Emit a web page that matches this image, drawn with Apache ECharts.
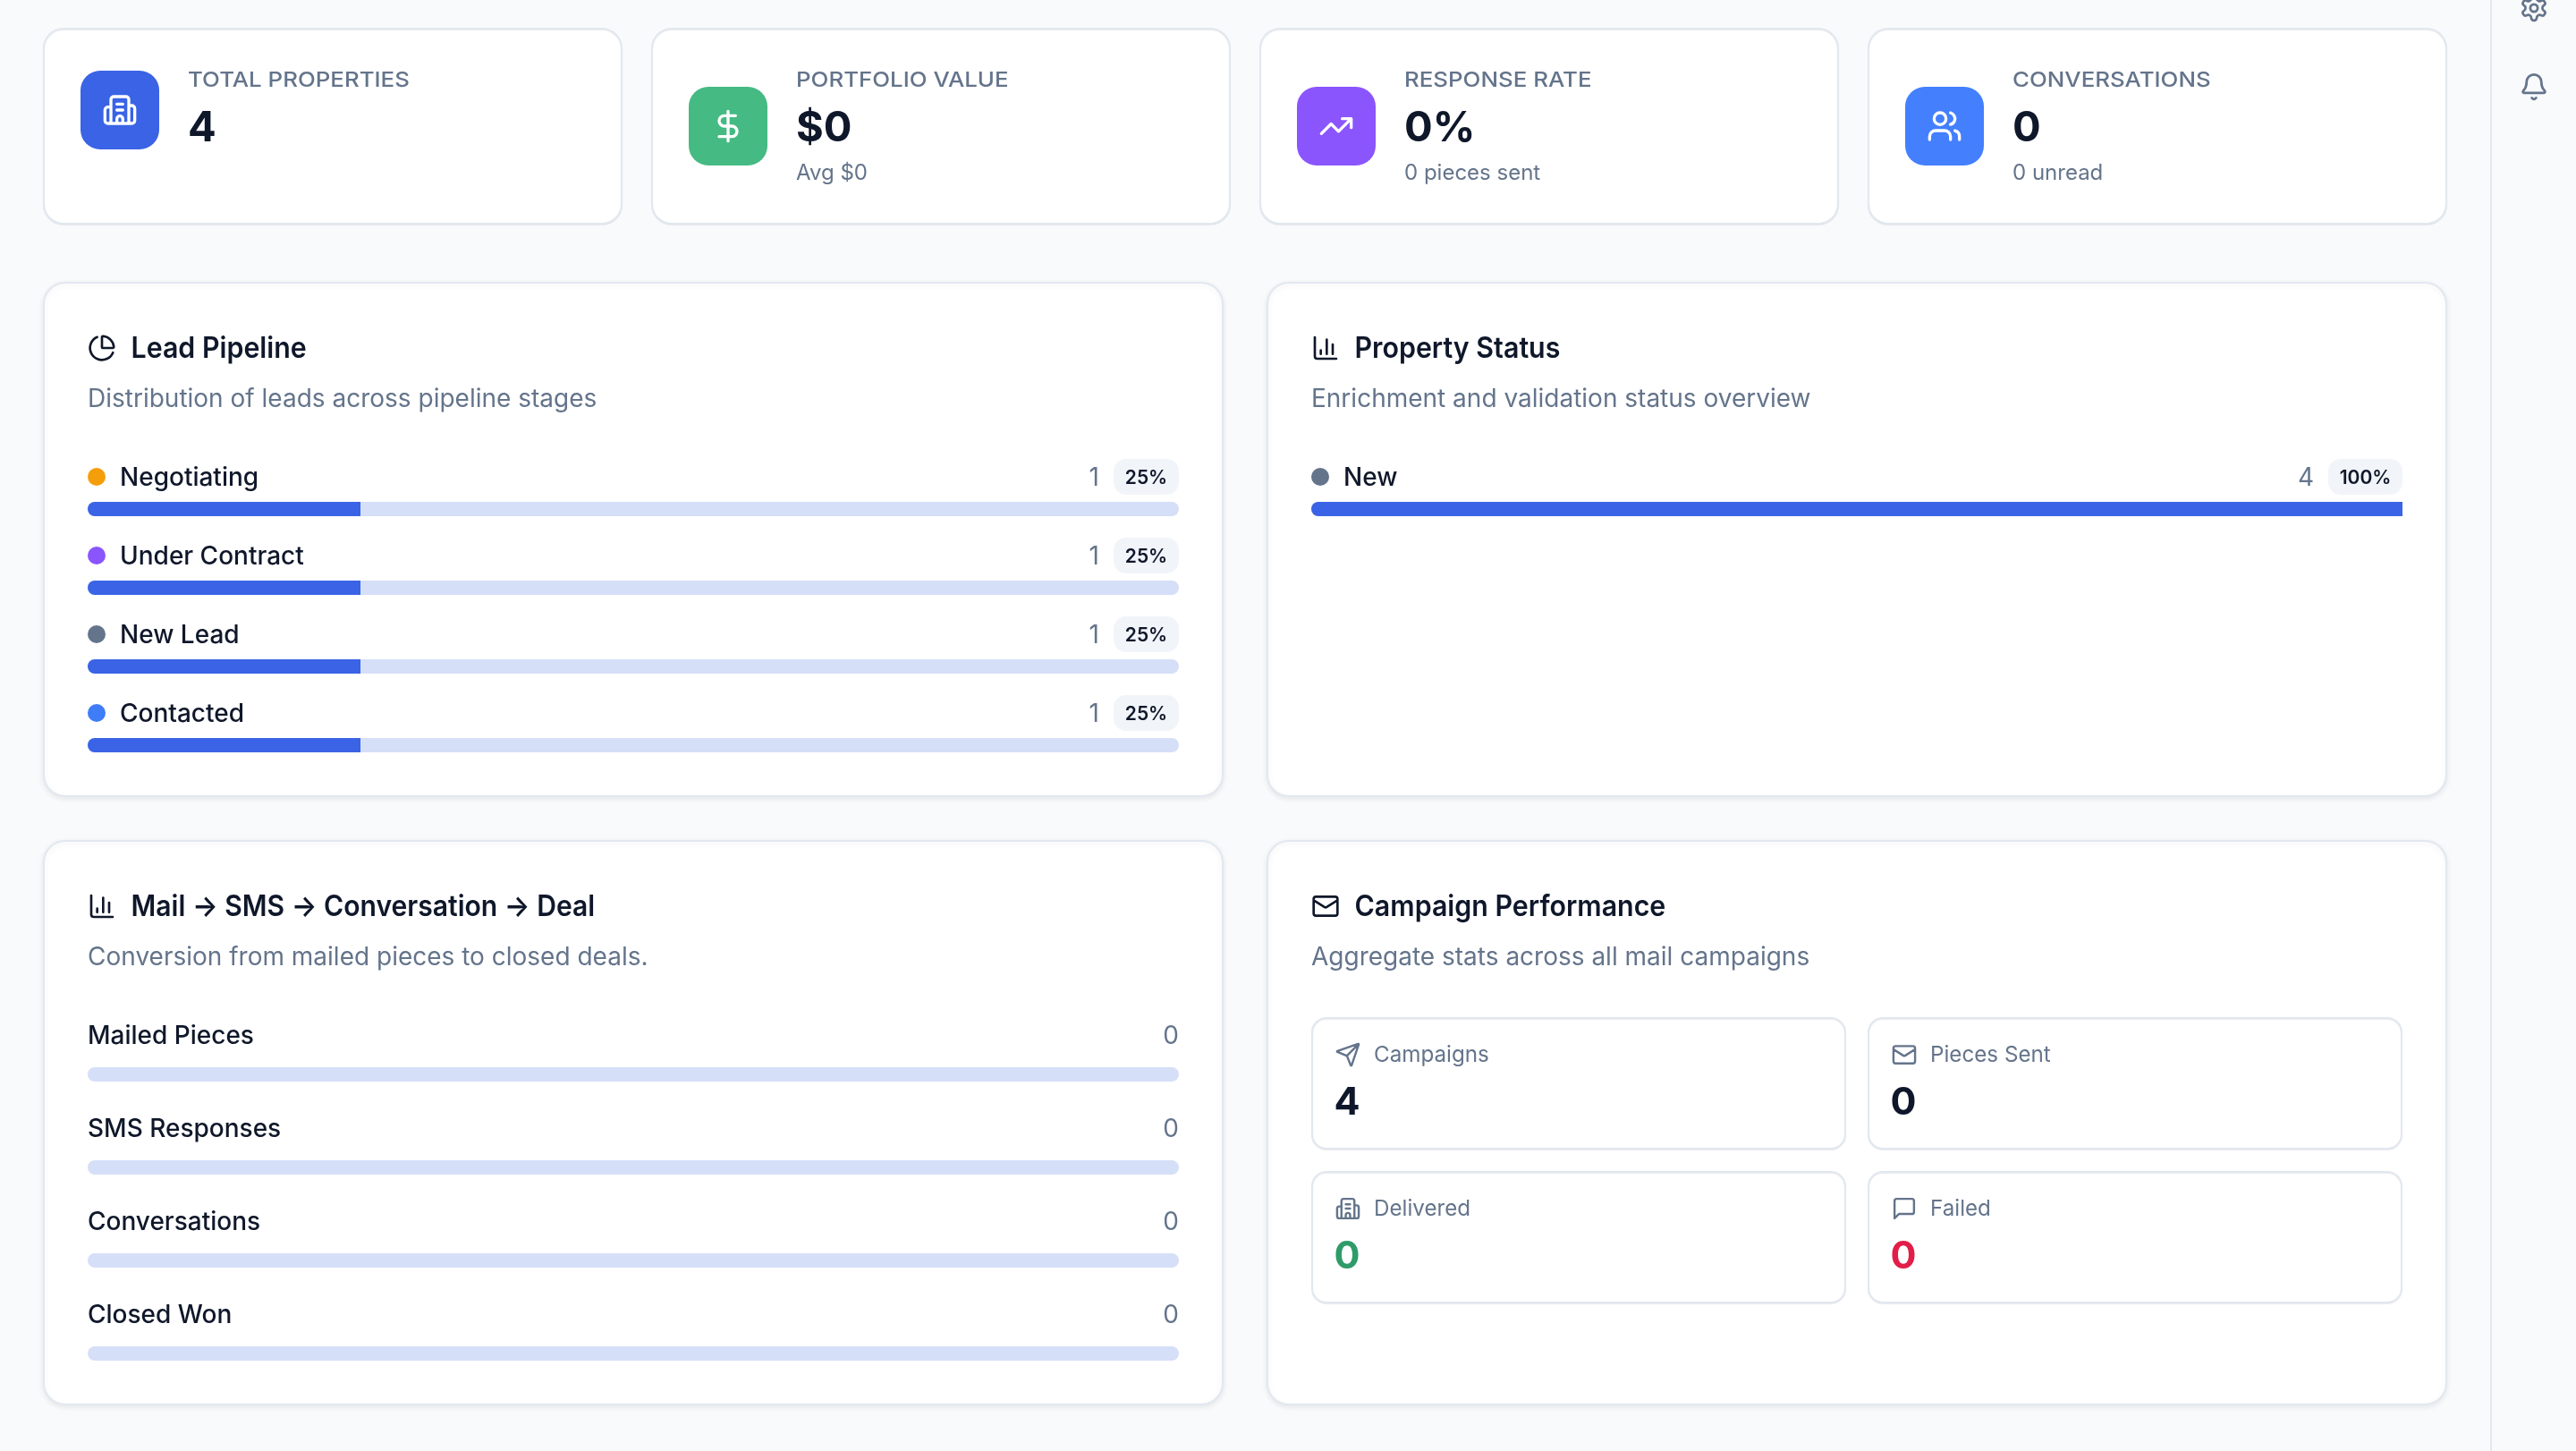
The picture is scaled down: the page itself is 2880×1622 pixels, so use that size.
<!DOCTYPE html>
<html>
<head>
<meta charset="utf-8">
<title>Dashboard</title>
<script src="https://cdn.jsdelivr.net/npm/echarts@6/dist/echarts.min.js"></script>
<style>
  html, body { margin: 0; padding: 0; background: #f9fafc; }
  #main { width: 2880px; height: 1622px; }
</style>
</head>
<body>
<div id="main"></div>
<script>
// data
var statLabels = ['TOTAL PROPERTIES', 'PORTFOLIO VALUE', 'RESPONSE RATE', 'CONVERSATIONS'];
var statValues = ['4', '$0', '0%', '0'];
var statNotes = ['', 'Avg $0', '0 pieces sent', '0 unread'];
var statColors = ['#3a63e6', '#45ba83', '#8b55fd', '#4480fe'];
var statIcons = ['building', 'dollar', 'trend', 'users'];

var pipelineStages = ['Negotiating', 'Under Contract', 'New Lead', 'Contacted'];
var pipelineCounts = [1, 1, 1, 1];
var pipelinePct = ['25%', '25%', '25%', '25%'];
var pipelineDots = ['#f59e0b', '#8b55fd', '#64748b', '#3f7cf8'];
var pipelineTotal = 4;

var statusNames = ['New'];
var statusCounts = [4];
var statusPct = ['100%'];
var statusDots = ['#64748b'];
var statusTotal = 4;

var funnelStages = ['Mailed Pieces', 'SMS Responses', 'Conversations', 'Closed Won'];
var funnelCounts = [0, 0, 0, 0];

var campaignLabels = ['Campaigns', 'Pieces Sent', 'Delivered', 'Failed'];
var campaignValues = ['4', '0', '0', '0'];
var campaignColors = ['#0f172a', '#0f172a', '#2f9b69', '#e11d48'];
var campaignIcons = ['send', 'mail', 'building', 'message'];

var ink = '#0f172a', muted = '#64748b', line = '#e2e8f0', blue = '#3a63e6', track = '#d5dff8';
var FONT = 'Inter';

var iconPaths = {
    building: 'M10 12h4M10 8h4M14 21v-3a2 2 0 0 0-4 0v3M6 10H4a2 2 0 0 0-2 2v7a2 2 0 0 0 2 2h2M6 21V5a2 2 0 0 1 2-2h8a2 2 0 0 1 2 2v16M18 9h2a2 2 0 0 1 2 2v8a2 2 0 0 1-2 2H4',
    dollar: 'M12 2v20M17 5H9.5a3.5 3.5 0 0 0 0 7h5a3.5 3.5 0 0 1 0 7H6',
    trend: 'M16 7h6v6M22 7l-8.5 8.5-5-5L2 17',
    users: 'M16 21v-2a4 4 0 0 0-4-4H6a4 4 0 0 0-4 4v2M5 7a4 4 0 1 0 8 0a4 4 0 1 0-8 0M22 21v-2a4 4 0 0 0-3-3.87M16 3.13a4 4 0 0 1 0 7.75',
    pie: 'M21 12c.552 0 1.005-.449.95-.998a10 10 0 0 0-8.953-8.951c-.55-.055-.998.398-.998.95v8a1 1 0 0 0 1 1zM21.21 15.89A10 10 0 1 1 8 2.83',
    column: 'M3 3v16a2 2 0 0 0 2 2h16M18 17V9M13 17V5M8 17v-3',
    mail: 'M22 7l-8.991 5.727a2 2 0 0 1-2.009 0L2 7M4 4h16a2 2 0 0 1 2 2v12a2 2 0 0 1-2 2H4a2 2 0 0 1-2-2V6a2 2 0 0 1 2-2z',
    send: 'M14.536 21.686a.5.5 0 0 0 .937-.024l6.5-19a.496.496 0 0 0-.635-.635l-19 6.5a.5.5 0 0 0-.024.937l7.93 3.18a2 2 0 0 1 1.112 1.11zM21.854 2.147l-10.94 10.939',
    message: 'M21 15a2 2 0 0 1-2 2H7l-4 4V5a2 2 0 0 1 2-2h14a2 2 0 0 1 2 2z',
    bell: 'M10.268 21a2 2 0 0 0 3.464 0M3.262 15.326A1 1 0 0 0 4 17h16a1 1 0 0 0 .74-1.673C19.41 13.956 18 12.499 18 8A6 6 0 0 0 6 8c0 4.499-1.411 5.956-2.738 7.326',
    gear: 'M12.22 2h-.44a2 2 0 0 0-2 2v.18a2 2 0 0 1-1 1.73l-.43.25a2 2 0 0 1-2 0l-.15-.08a2 2 0 0 0-2.73.73l-.22.38a2 2 0 0 0 .73 2.73l.15.1a2 2 0 0 1 1 1.72v.51a2 2 0 0 1-1 1.74l-.15.09a2 2 0 0 0-.73 2.73l.22.38a2 2 0 0 0 2.73.73l.15-.08a2 2 0 0 1 2 0l.43.25a2 2 0 0 1 1 1.73V20a2 2 0 0 0 2 2h.44a2 2 0 0 0 2-2v-.18a2 2 0 0 1 1-1.73l.43-.25a2 2 0 0 1 2 0l.15.08a2 2 0 0 0 2.73-.73l.22-.39a2 2 0 0 0-.73-2.73l-.15-.08a2 2 0 0 1-1-1.74v-.5a2 2 0 0 1 1-1.74l.15-.09a2 2 0 0 0 .73-2.73l-.22-.38a2 2 0 0 0-2.73-.73l-.15.08a2 2 0 0 1-2 0l-.43-.25a2 2 0 0 1-1-1.73V4a2 2 0 0 0-2-2zM9 12a3 3 0 1 0 6 0a3 3 0 1 0-6 0'
};
Object.keys(iconPaths).forEach(function (k) {
    echarts.graphic.registerShape('icon_' + k, echarts.graphic.extendPath(iconPaths[k]));
});

var gfx = [];

function card(x, y, w, h, r, shadow) {
    gfx.push({
        type: 'rect',
        shape: { x: x, y: y, width: w, height: h, r: r },
        style: {
            fill: '#fff', stroke: line, lineWidth: 2,
            shadowBlur: shadow ? 6 : 1, shadowOffsetY: shadow ? 2 : 1, shadowColor: 'rgba(15,23,42,0.08)'
        }
    });
}

function text(x, y, str, size, weight, color, align, sx) {
    gfx.push({
        type: 'text', x: x, y: y, scaleX: sx || 1,
        style: {
            text: str, fontFamily: FONT, fontSize: size, fontWeight: weight, fill: color,
            align: align || 'left', verticalAlign: 'middle'
        }
    });
}

function icon(name, cx, cy, size, color) {
    var s = size / 24;
    gfx.push({
        type: 'icon_' + name, x: cx - size / 2, y: cy - size / 2, scaleX: s, scaleY: s,
        style: { fill: 'none', stroke: color, lineWidth: 2, lineCap: 'round', lineJoin: 'round' }
    });
}

// right rail
gfx.push({ type: 'line', shape: { x1: 2785, y1: 0, x2: 2785, y2: 1622 }, style: { stroke: line, lineWidth: 2 } });
icon('gear', 2833, 9, 33, muted);
icon('bell', 2833, 97, 33, muted);

// stat cards
var statX = [49, 729, 1409, 2089];
statLabels.forEach(function (label, i) {
    var x = statX[i], hasNote = !!statNotes[i], tileY = hasNote ? 97 : 79;
    card(x, 32, 646, 218, 22, false);
    gfx.push({
        type: 'rect',
        shape: { x: x + 41, y: tileY, width: 88, height: 88, r: 22 },
        style: { fill: statColors[i] }
    });
    icon(statIcons[i], x + 85, tileY + 44, 40, '#fff');
    text(x + 161, 90, label, 23.5, 500, muted, 'left', 1.1);
    text(x + 161, 143.5, statValues[i], 47, 700, ink);
    if (hasNote) text(x + 161, 193.5, statNotes[i], 24, 400, muted);
});

// panels
function panel(x, y, w, h, iconName, title, sub, sx) {
    card(x, y, w, h, 24, true);
    icon(iconName, x + (iconName === 'column' && x > 1000 ? 65 : 65), y + 73, 32, ink);
    text(x + 97.5, y + 74.5, title, 33, 600, ink, 'left', sx);
    text(x + 49, y + 130.5, sub, 28, 400, muted);
}

panel(49, 316, 1318, 574, 'pie', 'Lead Pipeline', 'Distribution of leads across pipeline stages', 0.92);
panel(1417, 316, 1318, 574, 'column', 'Property Status', 'Enrichment and validation status overview', 0.92);
panel(49, 940, 1318, 630, 'column', 'Mail \u2192 SMS \u2192 Conversation \u2192 Deal', 'Conversion from mailed pieces to closed deals.', 0.912);
panel(1417, 940, 1318, 630, 'mail', 'Campaign Performance', 'Aggregate stats across all mail campaigns', 0.92);

function dotRows(names, counts, pct, dots, x0, x1, y0) {
    names.forEach(function (name, i) {
        var y = y0 + i * 88, bw = pct[i].length > 3 ? 83 : 73;
        gfx.push({ type: 'circle', shape: { cx: x0 + 10, cy: y, r: 10 }, style: { fill: dots[i] } });
        text(x0 + 36, y + 1.5, name, 28, 500, ink);
        gfx.push({
            type: 'rect', shape: { x: x1 - bw, y: y - 20, width: bw, height: 40, r: 14 },
            style: { fill: '#f1f5f9' }
        });
        text(x1 - bw / 2, y + 1.5, pct[i], 21, 600, ink, 'center');
        text(x1 - bw - 16, y + 1.5, String(counts[i]), 28, 400, muted, 'right');
    });
}
dotRows(pipelineStages, pipelineCounts, pipelinePct, pipelineDots, 98, 1318, 533);
dotRows(statusNames, statusCounts, statusPct, statusDots, 1466, 2686, 533);

funnelStages.forEach(function (name, i) {
    var y = 1158.5 + i * 104;
    text(98, y, name, 28, 500, ink);
    text(1318, y, String(funnelCounts[i]), 28, 400, muted, 'right');
});

// campaign tiles
var tileX = [1467, 2089], tileY = [1138, 1310];
campaignLabels.forEach(function (label, i) {
    var x = tileX[i % 2], y = tileY[i >> 1];
    card(x, y, 596, 146, 16, false);
    icon(campaignIcons[i], x + 40, y + 41, 29, muted);
    text(x + 69, y + 41.5, label, 24.2, 400, muted);
    text(x + 24.5, y + 95.5, campaignValues[i], 43, 700, campaignColors[i]);
});

function barGrid(left, top, width, height) {
    return { left: left, top: top, width: width, height: height, containLabel: false };
}

function valAxis(idx, max) {
    return { type: 'value', gridIndex: idx, min: 0, max: max, show: false };
}

function catAxis(idx, names) {
    return { type: 'category', gridIndex: idx, data: names, inverse: true, show: false };
}

function barSeries(idx, values) {
    return {
        type: 'bar', xAxisIndex: idx, yAxisIndex: idx, data: values, barWidth: 16, silent: true,
        itemStyle: { color: blue, borderRadius: [8, 0, 0, 8] },
        showBackground: true,
        backgroundStyle: { color: track, borderRadius: 8 },
        animation: false
    };
}

var myChart = echarts.init(document.getElementById('main'));
var option = {
    backgroundColor: '#f9fafc',
    animation: false,
    graphic: { elements: gfx },
    grid: [
        barGrid(98, 525, 1220, 352),
        barGrid(1466, 525, 1220, 88),
        barGrid(98, 1149, 1220, 416)
    ],
    xAxis: [valAxis(0, pipelineTotal), valAxis(1, statusTotal), valAxis(2, 1)],
    yAxis: [catAxis(0, pipelineStages), catAxis(1, statusNames), catAxis(2, funnelStages)],
    series: [
        barSeries(0, pipelineCounts),
        barSeries(1, statusCounts),
        barSeries(2, funnelCounts)
    ]
};
myChart.setOption(option);
</script>
</body>
</html>
